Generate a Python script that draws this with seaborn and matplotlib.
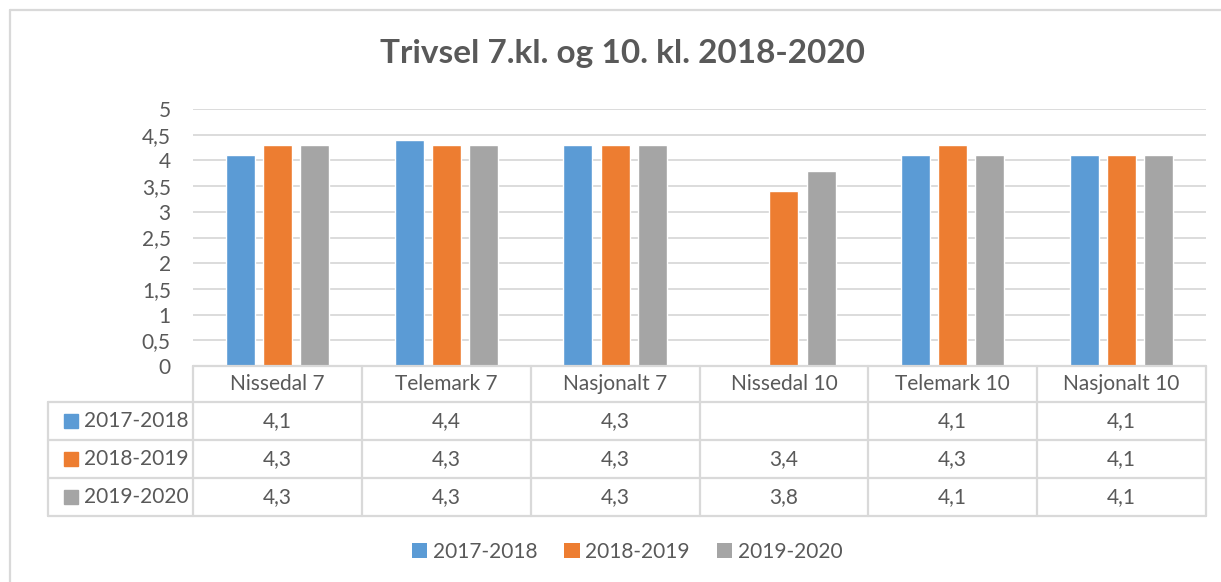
import matplotlib
matplotlib.use("Agg")
import matplotlib.pyplot as plt
from matplotlib.lines import Line2D
from matplotlib.patches import Patch
from matplotlib.ticker import FuncFormatter, MultipleLocator
import seaborn as sns
import pandas as pd
import numpy as np

categories = ["Nissedal 7", "Telemark 7", "Nasjonalt 7", "Nissedal 10", "Telemark 10", "Nasjonalt 10"]
series_names = ["2017-2018", "2018-2019", "2019-2020"]
s2017 = [4.1, 4.4, 4.3, None, 4.1, 4.1]
s2018 = [4.3, 4.3, 4.3, 3.4, 4.3, 4.1]
s2019 = [4.3, 4.3, 4.3, 3.8, 4.1, 4.1]
title = "Trivsel 7.kl. og 10. kl. 2018-2020"

colors = ["#5B9BD5", "#ED7D31", "#A5A5A5"]
TXT = "#595959"
GRID = "#D9D9D9"

series_vals = [s2017, s2018, s2019]
rows = []
for name, vals in zip(series_names, series_vals):
    for c, v in zip(categories, vals):
        rows.append({"kategori": c, "periode": name, "verdi": np.nan if v is None else v})
df = pd.DataFrame(rows)

sns.set_theme(style="white")
plt.rcParams["font.family"] = ["Lato", "DejaVu Sans"]

W, H = 1221, 582
fig = plt.figure(figsize=(W / 100, H / 100), dpi=100)

def fx(px):
    return px / W

def fy(py):
    return 1 - py / H

x0, x1 = 193, 1206
ytop, ybot = 109, 366
ax = fig.add_axes([fx(x0), fy(ybot), fx(x1) - fx(x0), (ybot - ytop) / H])

sns.barplot(data=df, x="kategori", y="verdi", hue="periode", order=categories,
            hue_order=series_names, palette=colors, width=0.66, gap=0.22,
            saturation=1, ax=ax, legend=False, errorbar=None)

ax.set_xlim(-0.5, len(categories) - 0.5)
ax.set_ylim(0, 5)
ax.yaxis.set_major_locator(MultipleLocator(0.5))
ax.yaxis.set_major_formatter(FuncFormatter(lambda v, p: (f"{v:g}").replace(".", ",")))
ax.grid(axis="y", color=GRID, linewidth=1.3)
ax.set_axisbelow(True)
for s in ["top", "right", "left"]:
    ax.spines[s].set_visible(False)
ax.spines["bottom"].set_color(GRID)
ax.spines["bottom"].set_linewidth(1.3)
ax.set_xticks([])
ax.set_xlabel("")
ax.set_ylabel("")
ax.tick_params(axis="y", length=0, pad=16, labelsize=15, labelcolor=TXT)

# Data table
lc = GRID
lw = 1.6
FS = 15
row_edges = [366, 402, 440, 478, 516]
col_edges = [x0 + i * (x1 - x0) / len(categories) for i in range(len(categories) + 1)]
label_left = 48

def hline(y, xa, xb):
    fig.add_artist(Line2D([fx(xa), fx(xb)], [fy(y), fy(y)], color=lc, linewidth=lw))

def vline(x, ya, yb):
    fig.add_artist(Line2D([fx(x), fx(x)], [fy(ya), fy(yb)], color=lc, linewidth=lw))

hline(row_edges[0], x0, x1)
for y in row_edges[1:]:
    hline(y, label_left, x1)
for x in col_edges:
    vline(x, row_edges[0], row_edges[-1])
vline(label_left, row_edges[1], row_edges[-1])

for i, c in enumerate(categories):
    cx = (col_edges[i] + col_edges[i + 1]) / 2
    fig.text(fx(cx), fy((row_edges[0] + row_edges[1]) / 2), c, ha="center", va="center",
             fontsize=FS, color=TXT)

for r, (name, vals, col) in enumerate(zip(series_names, series_vals, colors)):
    yc = (row_edges[r + 1] + row_edges[r + 2]) / 2
    fig.add_artist(plt.Rectangle((fx(64), fy(yc + 7)), fx(14), 14 / H, color=col,
                                 transform=fig.transFigure))
    fig.text(fx(84), fy(yc), name, ha="left", va="center", fontsize=FS, color=TXT)
    for i, v in enumerate(vals):
        if v is None:
            continue
        cx = (col_edges[i] + col_edges[i + 1]) / 2
        fig.text(fx(cx), fy(yc), f"{v:g}".replace(".", ","), ha="center", va="center",
                 fontsize=FS, color=TXT)

# Title
fig.text(fx(622), fy(53), title, ha="center", va="center", fontsize=24,
         fontweight="bold", color=TXT)

# Legend
handles = [Patch(facecolor=c, edgecolor="none") for c in colors]
fig.legend(handles, series_names, loc="center", bbox_to_anchor=(fx(627), fy(552)),
           ncol=3, frameon=False, fontsize=FS, labelcolor=TXT, handlelength=0.75,
           handleheight=0.75, handletextpad=0.25, columnspacing=1.3)

# Outer chart border (top and left)
fig.add_artist(Line2D([fx(10), 1], [fy(10), fy(10)], color=lc, linewidth=1.6))
fig.add_artist(Line2D([fx(10), fx(10)], [fy(10), 0], color=lc, linewidth=1.6))

fig.savefig("out.png", dpi=100, facecolor="white")
